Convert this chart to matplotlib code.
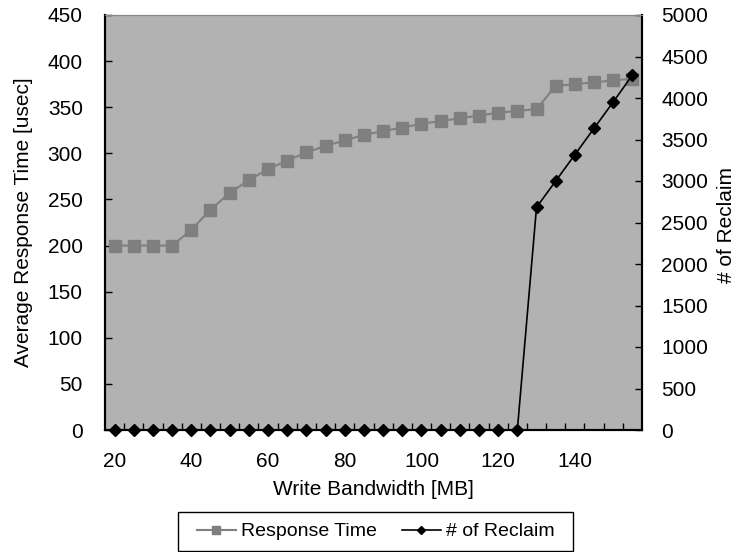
import matplotlib
matplotlib.use("Agg")
import matplotlib.pyplot as plt
import matplotlib.ticker as ticker
from matplotlib.patches import Rectangle
import numpy as np

plt.rcParams['font.family'] = ['Liberation Sans', 'DejaVu Sans']
plt.rcParams['font.size'] = 15

bandwidth = [20, 25, 30, 35, 40, 45, 50, 55, 60, 65, 70, 75, 80, 85,
             90, 95, 100, 105, 110, 115, 120, 125, 130, 135, 140, 145, 150, 155]
response_time = [200, 200, 200, 200, 217, 239, 257, 271, 283, 292, 301, 308, 314, 320,
                 324, 328, 332, 335, 338, 341, 344, 346, 348, 373, 375, 377, 379, 381]
reclaim = [0, 0, 0, 0, 0, 0, 0, 0, 0, 0, 0, 0, 0, 0,
           0, 0, 0, 0, 0, 0, 0, 0, 2683, 3000, 3317, 3635, 3952, 4277]

fig = plt.figure(figsize=(7.36, 5.52), dpi=100)
ax = fig.add_axes([105/736, 1-430/552, 537/736, 415/552])
ax.set_facecolor('#b2b2b2')

l1, = ax.plot(bandwidth, response_time, color='#808080', lw=1.5, marker='s',
              markersize=9, markerfacecolor='#7f7f7f', markeredgecolor='#7f7f7f',
              label='Response Time', zorder=3)
ax2 = ax.twinx()
l2, = ax2.plot(bandwidth, reclaim, color='black', lw=1.2, marker='D',
               markersize=6.5, label='# of Reclaim', clip_on=False, zorder=4)

ax.set_xlim(17.5, 157.5)
ax.set_ylim(0, 450)
ax2.set_ylim(0, 5000)
ax.yaxis.set_major_locator(ticker.MultipleLocator(50))
ax2.yaxis.set_major_locator(ticker.MultipleLocator(500))
ax.xaxis.set_major_locator(ticker.MultipleLocator(20))
ax.xaxis.set_minor_locator(ticker.FixedLocator(np.arange(22.5, 157.5, 5)))
ax.tick_params(axis='x', which='major', length=0, pad=16)
ax.tick_params(axis='x', which='minor', direction='in', length=5, width=1)
ax.tick_params(axis='y', direction='in', length=5, width=1, pad=16)
ax2.tick_params(axis='y', direction='in', length=5, width=1, pad=14)

for a in (ax, ax2):
    a.spines['top'].set_color('#888888')
    a.spines['top'].set_linewidth(0.8)
    a.spines['left'].set_linewidth(1.5)
    a.spines['right'].set_linewidth(1.5)
    a.spines['bottom'].set_linewidth(1.5)

ax.set_xlabel('Write Bandwidth [MB]', labelpad=6)
fig.text(24/736, 1-222/552, 'Average Response Time [usec]', rotation=90,
         ha='center', va='center')
fig.text(727/736, 1-225/552, '# of Reclaim', rotation=90,
         ha='center', va='center')

# legend without its own frame, box drawn around it
leg = fig.legend(handles=[l1, l2], loc='center', bbox_to_anchor=(375.5/736, 1-531.5/552),
                 ncol=2, frameon=False, fontsize=14,
                 handlelength=2.0, columnspacing=1.3, handletextpad=0.25, borderpad=0.45,
                 markerscale=0.7)
fig.patches.append(Rectangle((178/736, 1-551/552), 395/736, 39/552,
                             transform=fig.transFigure, fill=False,
                             edgecolor='black', linewidth=1))

fig.savefig('out.png', dpi=100)
